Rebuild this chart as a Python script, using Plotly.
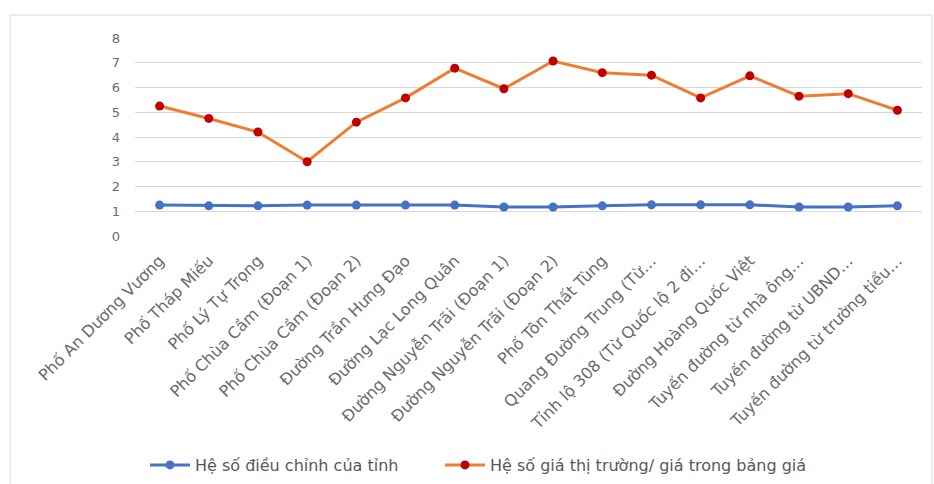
import plotly.graph_objects as go

categories = [
    "Phố An Dương Vương",
    "Phố Tháp Miếu",
    "Phố Lý Tự Trọng",
    "Phố Chùa Cầm (Đoạn 1)",
    "Phố Chùa Cầm (Đoạn 2)",
    "Đường Trần Hưng Đạo",
    "Đường Lạc Long Quân",
    "Đường Nguyễn Trãi (Đoạn 1)",
    "Đường Nguyễn Trãi (Đoạn 2)",
    "Phố Tôn Thất Tùng",
    "Quang Đường Trung (Từ…",
    "Tỉnh lộ 308 (Từ Quốc lộ 2 đi…",
    "Đường Hoàng Quốc Việt",
    "Tuyến đường từ nhà ông…",
    "Tuyến đường từ UBND…",
    "Tuyến đường từ trường tiểu…",
]

he_so_tinh = [1.25, 1.22, 1.22, 1.25, 1.25, 1.25, 1.25, 1.17, 1.17, 1.22, 1.26, 1.26, 1.26, 1.17, 1.17, 1.22]
he_so_thi_truong = [5.25, 4.75, 4.2, 3.0, 4.6, 5.58, 6.78, 5.95, 7.07, 6.6, 6.5, 5.58, 6.47, 5.65, 5.75, 5.08]

series_names = ["Hệ số điều chỉnh của tỉnh", "Hệ số giá thị trường/ giá trong bảng giá"]

fig = go.Figure()
fig.add_trace(go.Scatter(
    x=categories, y=he_so_tinh, mode="lines+markers", name=series_names[0],
    line=dict(color="#4472C4", width=3),
    marker=dict(color="#4472C4", size=9),
    legend="legend",
))
fig.add_trace(go.Scatter(
    x=categories, y=he_so_thi_truong, mode="lines+markers", name=series_names[1],
    line=dict(color="#ED7D31", width=3),
    marker=dict(color="#C00000", size=9),
    legend="legend2",
))

legend_font = dict(family="DejaVu Sans, sans-serif", size=16, color="#595959")
leg_y = (236 - 465) / 198

fig.update_layout(
    width=934, height=484,
    margin=dict(l=135, r=12, t=38, b=248, autoexpand=False),
    paper_bgcolor="white", plot_bgcolor="white",
    font=dict(family="DejaVu Sans, sans-serif", size=13, color="#595959"),
    showlegend=True,
    legend=dict(orientation="h", x=(145 - 135) / 787, xanchor="left",
                y=leg_y, yanchor="middle", font=legend_font, itemwidth=40),
    legend2=dict(orientation="h", x=(440 - 135) / 787, xanchor="left",
                 y=leg_y, yanchor="middle", font=legend_font, itemwidth=40),
    shapes=[dict(type="rect", xref="paper", yref="paper",
                 x0=(10 - 135) / 787, x1=(932 - 135) / 787,
                 y0=(236 - 490) / 198, y1=(236 - 15) / 198,
                 line=dict(color="#D9D9D9", width=1), layer="below")],
)
fig.update_xaxes(type="category", range=[-0.5, len(categories) - 0.5], tickangle=-45,
                 showgrid=False, showline=False, ticks="outside", ticklen=8,
                 tickcolor="rgba(0,0,0,0)", automargin=False,
                 tickfont=dict(family="DejaVu Sans, sans-serif", size=16, color="#6b6b6b"))
fig.update_yaxes(range=[0, 8], dtick=1, showgrid=True, gridcolor="#D9D9D9", gridwidth=1,
                 zeroline=False, showline=False, ticks="", ticklabelstandoff=14,
                 automargin=False,
                 tickfont=dict(family="DejaVu Sans, sans-serif", size=13, color="#6b6b6b"))

fig.write_html("out.html")
